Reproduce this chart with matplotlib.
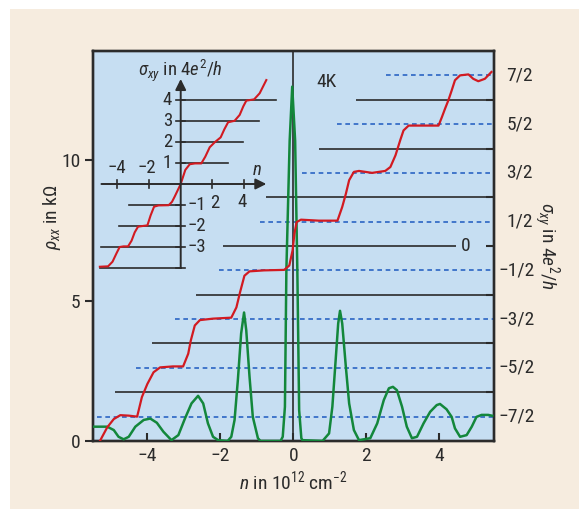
import matplotlib
matplotlib.use("Agg")
import matplotlib.pyplot as plt
from matplotlib.patches import Rectangle
from matplotlib import font_manager

# condensed font if there is one, else the narrowest of the installed ones
installed = {f.name for f in font_manager.fontManager.ttflist}
font = next((f for f in ['Liberation Sans Narrow', 'Roboto Condensed', 'Open Sans Condensed', 'Lato']
             if f in installed), 'DejaVu Sans')

plt.rcParams['font.family'] = [font, 'DejaVu Sans']
plt.rcParams['mathtext.fontset'] = 'custom'
plt.rcParams['mathtext.rm'] = font
plt.rcParams['mathtext.it'] = font + ':italic'
plt.rcParams['text.color'] = '#2b2b2b'
plt.rcParams['xtick.color'] = '#2b2b2b'
plt.rcParams['ytick.color'] = '#2b2b2b'

# sigma_xy (4e^2/h) vs n (10^12 cm^-2), main panel, right axis
red_n = [-5.30, -5.10, -4.92, -4.74, -4.51, -4.28, -4.15, -4.00, -3.83, -3.65,
         -3.30, -3.02, -2.88, -2.81, -2.70, -2.56, -2.20, -1.70, -1.56, -1.46,
         -1.34, -1.20, -0.80, -0.25, -0.11, -0.02, 0.03, 0.09, 0.21, 0.70,
         1.21, 1.34, 1.44, 1.53, 1.66, 1.80, 2.16, 2.52, 2.66, 2.80,
         2.93, 3.02, 3.16, 3.53, 3.98, 4.07, 4.16, 4.25, 4.34, 4.43,
         4.57, 4.80, 4.93, 5.07, 5.25, 5.43]
red_sigma = [-4.00, -3.72, -3.55, -3.47, -3.48, -3.50, -3.10, -2.83, -2.59, -2.49,
             -2.47, -2.47, -2.21, -1.94, -1.63, -1.52, -1.49, -1.47, -1.26, -0.95,
             -0.61, -0.52, -0.50, -0.49, -0.40, -0.09, 0.25, 0.49, 0.54, 0.52,
             0.52, 0.80, 1.07, 1.35, 1.52, 1.54, 1.50, 1.54, 1.62, 1.86,
             2.17, 2.37, 2.47, 2.47, 2.47, 2.64, 2.82, 2.99, 3.19, 3.40,
             3.50, 3.52, 3.43, 3.38, 3.43, 3.57]

# rho_xx (kOhm) vs n, main panel, left axis
green_n = [-5.47, -5.10, -4.92, -4.79, -4.65, -4.51, -4.33, -4.10, -3.92, -3.74,
           -3.56, -3.34, -3.15, -2.97, -2.79, -2.61, -2.47, -2.34, -2.20, -2.06,
           -1.80, -1.70, -1.61, -1.52, -1.43, -1.35, -1.29, -1.20, -1.11, -0.97,
           -0.90, -0.35, -0.29, -0.23, -0.19, -0.10, -0.03, 0.05, 0.11, 0.16,
           0.22, 0.25, 0.80, 0.98, 1.07, 1.16, 1.23, 1.28, 1.34, 1.44,
           1.53, 1.66, 1.80, 2.11, 2.30, 2.48, 2.62, 2.73, 2.84, 2.98,
           3.11, 3.25, 3.39, 3.57, 3.75, 3.93, 4.02, 4.20, 4.34, 4.43,
           4.57, 4.75, 4.89, 5.02, 5.16, 5.34, 5.45]
green_rho = [0.51, 0.51, 0.39, 0.15, 0.06, 0.15, 0.51, 0.75, 0.80, 0.65,
             0.33, 0.03, 0.21, 0.80, 1.34, 1.61, 1.34, 0.63, 0.15, 0.03,
             0.00, 0.15, 0.75, 2.17, 3.83, 4.58, 3.95, 2.29, 0.86, 0.10,
             0.00, 0.00, 0.15, 1.22, 6.10, 10.70, 12.63, 10.70, 6.10, 1.10,
             0.10, 0.03, 0.00, 0.27, 1.22, 2.88, 4.19, 4.64, 4.19, 2.64,
             1.34, 0.39, 0.03, 0.10, 0.63, 1.46, 1.88, 1.93, 1.81, 1.22,
             0.51, 0.10, 0.15, 0.63, 1.04, 1.28, 1.32, 1.13, 0.86, 0.45,
             0.15, 0.21, 0.51, 0.86, 0.93, 0.93, 0.90]

# reference levels in the main panel (sigma units)
int_levels = [3, 2, 1, 0, -1, -2, -3]
int_start = [1.72, 0.71, -0.74, -1.93, -2.67, -3.87, -4.90]
int_end = [None, None, None, 4.47, None, None, None]
half_levels = [3.5, 2.5, 1.5, 0.5, -0.5, -1.5, -2.5, -3.5]
half_start = [2.53, 1.20, 0.25, -0.90, -2.04, -3.24, -4.30, -5.37]
half_labels = ['7/2', '5/2', '3/2', '1/2', '\u22121/2', '\u22123/2', '\u22125/2', '\u22127/2']

# inset: ideal sigma_xy vs n
inset_n = [-5.10, -4.58, -4.30, -4.05, -3.85, -3.60, -3.32, -3.10, -2.90, -2.69,
           -2.40, -2.10, -1.90, -1.68, -1.40, -0.76, -0.55, -0.38, 0.00, 0.29,
           0.57, 0.90, 1.30, 1.55, 1.83, 2.15, 2.52, 2.75, 2.99, 3.40,
           3.72, 3.95, 4.14, 4.63, 4.98, 5.20, 5.40]
inset_sigma = [-3.94, -3.92, -3.70, -3.30, -3.00, -2.97, -2.97, -2.70, -2.30, -2.03,
               -2.00, -1.97, -1.50, -1.08, -1.02, -1.01, -0.85, -0.60, 0.00, 0.67,
               0.94, 0.98, 0.98, 1.30, 1.75, 1.99, 2.22, 2.60, 2.94, 3.01,
               3.29, 3.70, 3.97, 4.03, 4.32, 4.65, 4.95]
inset_levels = [4, 3, 2, 1, -1, -2, -3, -4]
inset_start = [0, 0, 0, 0, -3.26, -3.91, -5.00, -5.10]
inset_end = [6.04, 4.92, 3.93, 2.98, 0, 0, 0, 0]
inset_xticks = [-4, -2, 2, 4]

red = '#d21a21'
green = '#13873b'
blue = '#2a64c4'
dark = '#2b2b2b'
fs = 14

fig = plt.figure(figsize=(5.79, 5.09), dpi=100)
fig.patch.set_facecolor('white')
fig.patches.append(Rectangle((10 / 579, 0), 1, 1 - 9 / 509, transform=fig.transFigure,
                             facecolor='#f6ecdf', edgecolor='none', zorder=-10))

ax = fig.add_axes([0.1606, 0.1336, 0.6926, 0.7662])
ax.set_facecolor('#c6def2')
ax.set_xlim(-5.49, 5.5)
ax.set_ylim(0, 13.9)
for s in ax.spines.values():
    s.set_linewidth(1.7)
    s.set_color(dark)
ax.set_xticks([-4, -2, 0, 2, 4])
ax.set_yticks([0, 5, 10])
ax.tick_params(axis='y', direction='out', length=6, width=1.5, labelsize=fs, pad=3)
ax.tick_params(axis='x', direction='in', length=6, width=1.5, labelsize=fs, pad=4)
ax.text(-0.102, 0.574, r'$\rho_{xx}$' + ' in k\u03a9', transform=ax.transAxes,
        rotation=90, ha='center', va='center', fontsize=fs)
ax.text(0.5, -0.103, r'$n$ in 10$^{12}$ cm$^{-2}$', transform=ax.transAxes,
        ha='center', va='center', fontsize=fs)

ax2 = ax.twinx()
ax2.set_ylim(-4, 4)
ax2.set_facecolor('none')
for s in ax2.spines.values():
    s.set_linewidth(1.7)
    s.set_color(dark)
ax2.set_yticks(int_levels)
ax2.set_yticklabels([])
ax2.tick_params(axis='y', direction='in', length=6, width=1.5)

xmax = ax.get_xlim()[1]
for lev, x0, x1 in zip(int_levels, int_start, int_end):
    ax2.hlines(lev, x0, xmax if x1 is None else x1, color=dark, lw=1.2, zorder=2)
for lev, x0 in zip(half_levels, half_start):
    ax2.hlines(lev, x0, xmax, color=blue, lw=1.2, linestyles=(0, (2.8, 2.2)), zorder=2)
for lev, lab in zip(half_levels, half_labels):
    dx = 3 if lab.startswith('\u2212') else 9
    ax2.annotate(lab, xy=(1, lev), xycoords=('axes fraction', 'data'),
                 xytext=(dx, 0), textcoords='offset points',
                 ha='left', va='center', fontsize=fs)
ax2.text(4.6, 0, '0', ha='left', va='center', fontsize=fs)
ax2.text(1.13, 0.5, r'$\sigma_{xy}$ in 4$e^2$/$h$', transform=ax2.transAxes,
         rotation=270, ha='center', va='center', fontsize=fs)

ax2.axvline(0, color=dark, lw=1.2, zorder=3)
ax2.plot(green_n, green_rho, color=green, lw=1.8, transform=ax.transData, zorder=4,
         solid_joinstyle='round')
ax2.plot(red_n, red_sigma, color=red, lw=1.6, zorder=5, solid_joinstyle='round')
ax2.text(0.63, 12.78, '4K', transform=ax.transData, ha='left', va='center', fontsize=fs)

# inset
axi = fig.add_axes([0.1615, 0.4611, 0.3231, 0.4167])
axi.set_xlim(-5.5, 6.3)
axi.set_ylim(-4.3, 5.8)
axi.axis('off')
axi.patch.set_alpha(0)
for lev, x0, x1 in zip(inset_levels, inset_start, inset_end):
    axi.plot([x0, x1], [lev, lev], color=dark, lw=1.2)
    axi.plot([-0.3, 0.3], [lev, lev], color=dark, lw=1.2)
for t in inset_xticks:
    axi.plot([t, t], [-0.17, 0.17], color=dark, lw=1.2)
axi.annotate('', xy=(0, 5.0), xytext=(0, -4.0),
             arrowprops=dict(arrowstyle='-|>', lw=1.4, color=dark, mutation_scale=16,
                             shrinkA=0, shrinkB=0))
axi.annotate('', xy=(5.4, 0), xytext=(-5.0, 0),
             arrowprops=dict(arrowstyle='-|>', lw=1.4, color=dark, mutation_scale=16,
                             shrinkA=0, shrinkB=0))
axi.plot(inset_n, inset_sigma, color=red, lw=1.5, solid_joinstyle='round')
fsi = 13.5
for lev in [4, 3, 2, 1]:
    axi.text(-0.55, lev, str(lev), ha='right', va='center', fontsize=fsi)
for lev in [-1, -2, -3]:
    axi.text(0.45, lev, '\u2212' + str(-lev), ha='left', va='center', fontsize=fsi)
axi.text(-4.06, 0.75, '\u22124', ha='center', va='center', fontsize=fsi)
axi.text(-2.16, 0.75, '\u22122', ha='center', va='center', fontsize=fsi)
axi.text(2.15, -0.9, '2', ha='center', va='center', fontsize=fsi)
axi.text(3.88, -0.85, '4', ha='center', va='center', fontsize=fsi)
axi.text(4.8, 0.65, r'$n$', ha='center', va='center', fontsize=fsi)
axi.text(0, 5.4, r'$\sigma_{xy}$ in 4$e^2$/$h$', ha='center', va='center', fontsize=fsi)

fig.savefig('out.png', dpi=100, facecolor=fig.get_facecolor())
